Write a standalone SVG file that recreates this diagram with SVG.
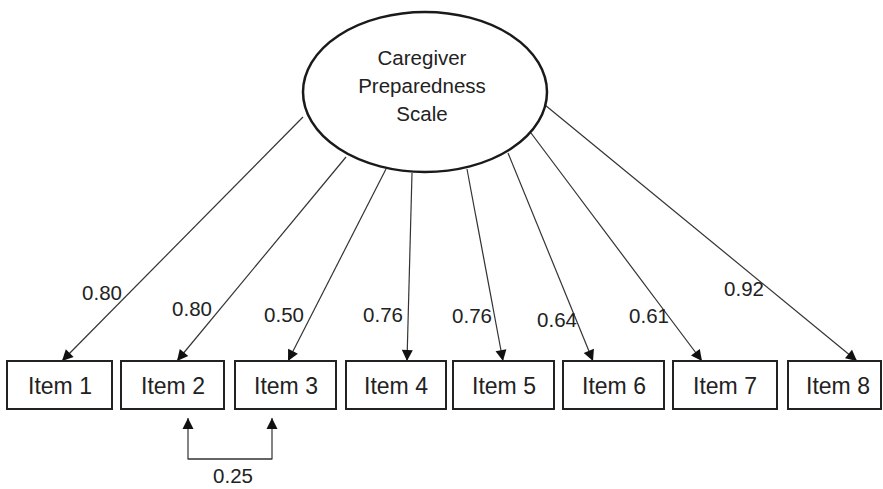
<svg xmlns="http://www.w3.org/2000/svg" width="883" height="489" viewBox="0 0 883 489">
<style>
.bg{fill:#fff}
.box{fill:#fff;stroke:#222;stroke-width:2}
.ell{fill:#fff;stroke:#1a1a1a;stroke-width:2.5}
.ln{fill:none;stroke:#333;stroke-width:1.2}
.t{font-family:"Liberation Sans",Arial,sans-serif;fill:#222;text-anchor:middle}
.lt{font-size:20.5px}
.it{font-size:23px}
.num{font-size:20.5px}
</style>
<defs>
<marker id="ah" markerUnits="userSpaceOnUse" markerWidth="13" markerHeight="13" viewBox="0 0 13 13" refX="12" refY="6.5" orient="auto">
<path d="M1,1 L12,6.5 L1,12 Z" fill="#111"/>
</marker>
</defs>
<rect class="bg" x="0" y="0" width="883" height="489"/>
<g id="connectors">
<line class="ln" x1="303" y1="117" x2="62" y2="361" marker-end="url(#ah)"/>
<line class="ln" x1="346" y1="157" x2="177" y2="361" marker-end="url(#ah)"/>
<line class="ln" x1="386" y1="169" x2="288" y2="361" marker-end="url(#ah)"/>
<line class="ln" x1="412" y1="173" x2="407" y2="361" marker-end="url(#ah)"/>
<line class="ln" x1="467" y1="169" x2="503" y2="361" marker-end="url(#ah)"/>
<line class="ln" x1="508" y1="153" x2="593" y2="361" marker-end="url(#ah)"/>
<line class="ln" x1="531" y1="133" x2="702" y2="361" marker-end="url(#ah)"/>
<line class="ln" x1="545" y1="105" x2="857" y2="361" marker-end="url(#ah)"/>
<path class="ln" d="M188,459 H272 V418" marker-end="url(#ah)"/>
<path class="ln" d="M272,459 H188 V418" marker-end="url(#ah)"/>
<text class="t num" x="102" y="300">0.80</text>
<text class="t num" x="192" y="316">0.80</text>
<text class="t num" x="284" y="322">0.50</text>
<text class="t num" x="383" y="322">0.76</text>
<text class="t num" x="472" y="323">0.76</text>
<text class="t num" x="557" y="327">0.64</text>
<text class="t num" x="649" y="323">0.61</text>
<text class="t num" x="744" y="296">0.92</text>
<text class="t num" x="233" y="483">0.25</text>
</g>
<g id="latent">
<ellipse class="ell" cx="425" cy="92" rx="122" ry="80"/>
<text class="t lt" x="422" y="65">Caregiver</text>
<text class="t lt" x="422" y="93">Preparedness</text>
<text class="t lt" x="422" y="121">Scale</text>
</g>
<g id="item1"><rect class="box" x="7" y="361" width="105" height="48"/><text class="t it" x="60" y="394">Item 1</text></g>
<g id="item2"><rect class="box" x="121" y="361" width="103" height="48"/><text class="t it" x="173" y="394">Item 2</text></g>
<g id="item3"><rect class="box" x="235" y="361" width="101" height="48"/><text class="t it" x="286" y="394">Item 3</text></g>
<g id="item4"><rect class="box" x="346" y="361" width="100" height="48"/><text class="t it" x="396" y="394">Item 4</text></g>
<g id="item5"><rect class="box" x="453" y="361" width="101" height="48"/><text class="t it" x="504" y="394">Item 5</text></g>
<g id="item6"><rect class="box" x="563" y="361" width="101" height="48"/><text class="t it" x="614" y="394">Item 6</text></g>
<g id="item7"><rect class="box" x="673" y="361" width="104" height="48"/><text class="t it" x="725" y="394">Item 7</text></g>
<g id="item8"><rect class="box" x="788" y="361" width="93" height="48"/><text class="t it" x="838" y="394">Item 8</text></g>
</svg>
